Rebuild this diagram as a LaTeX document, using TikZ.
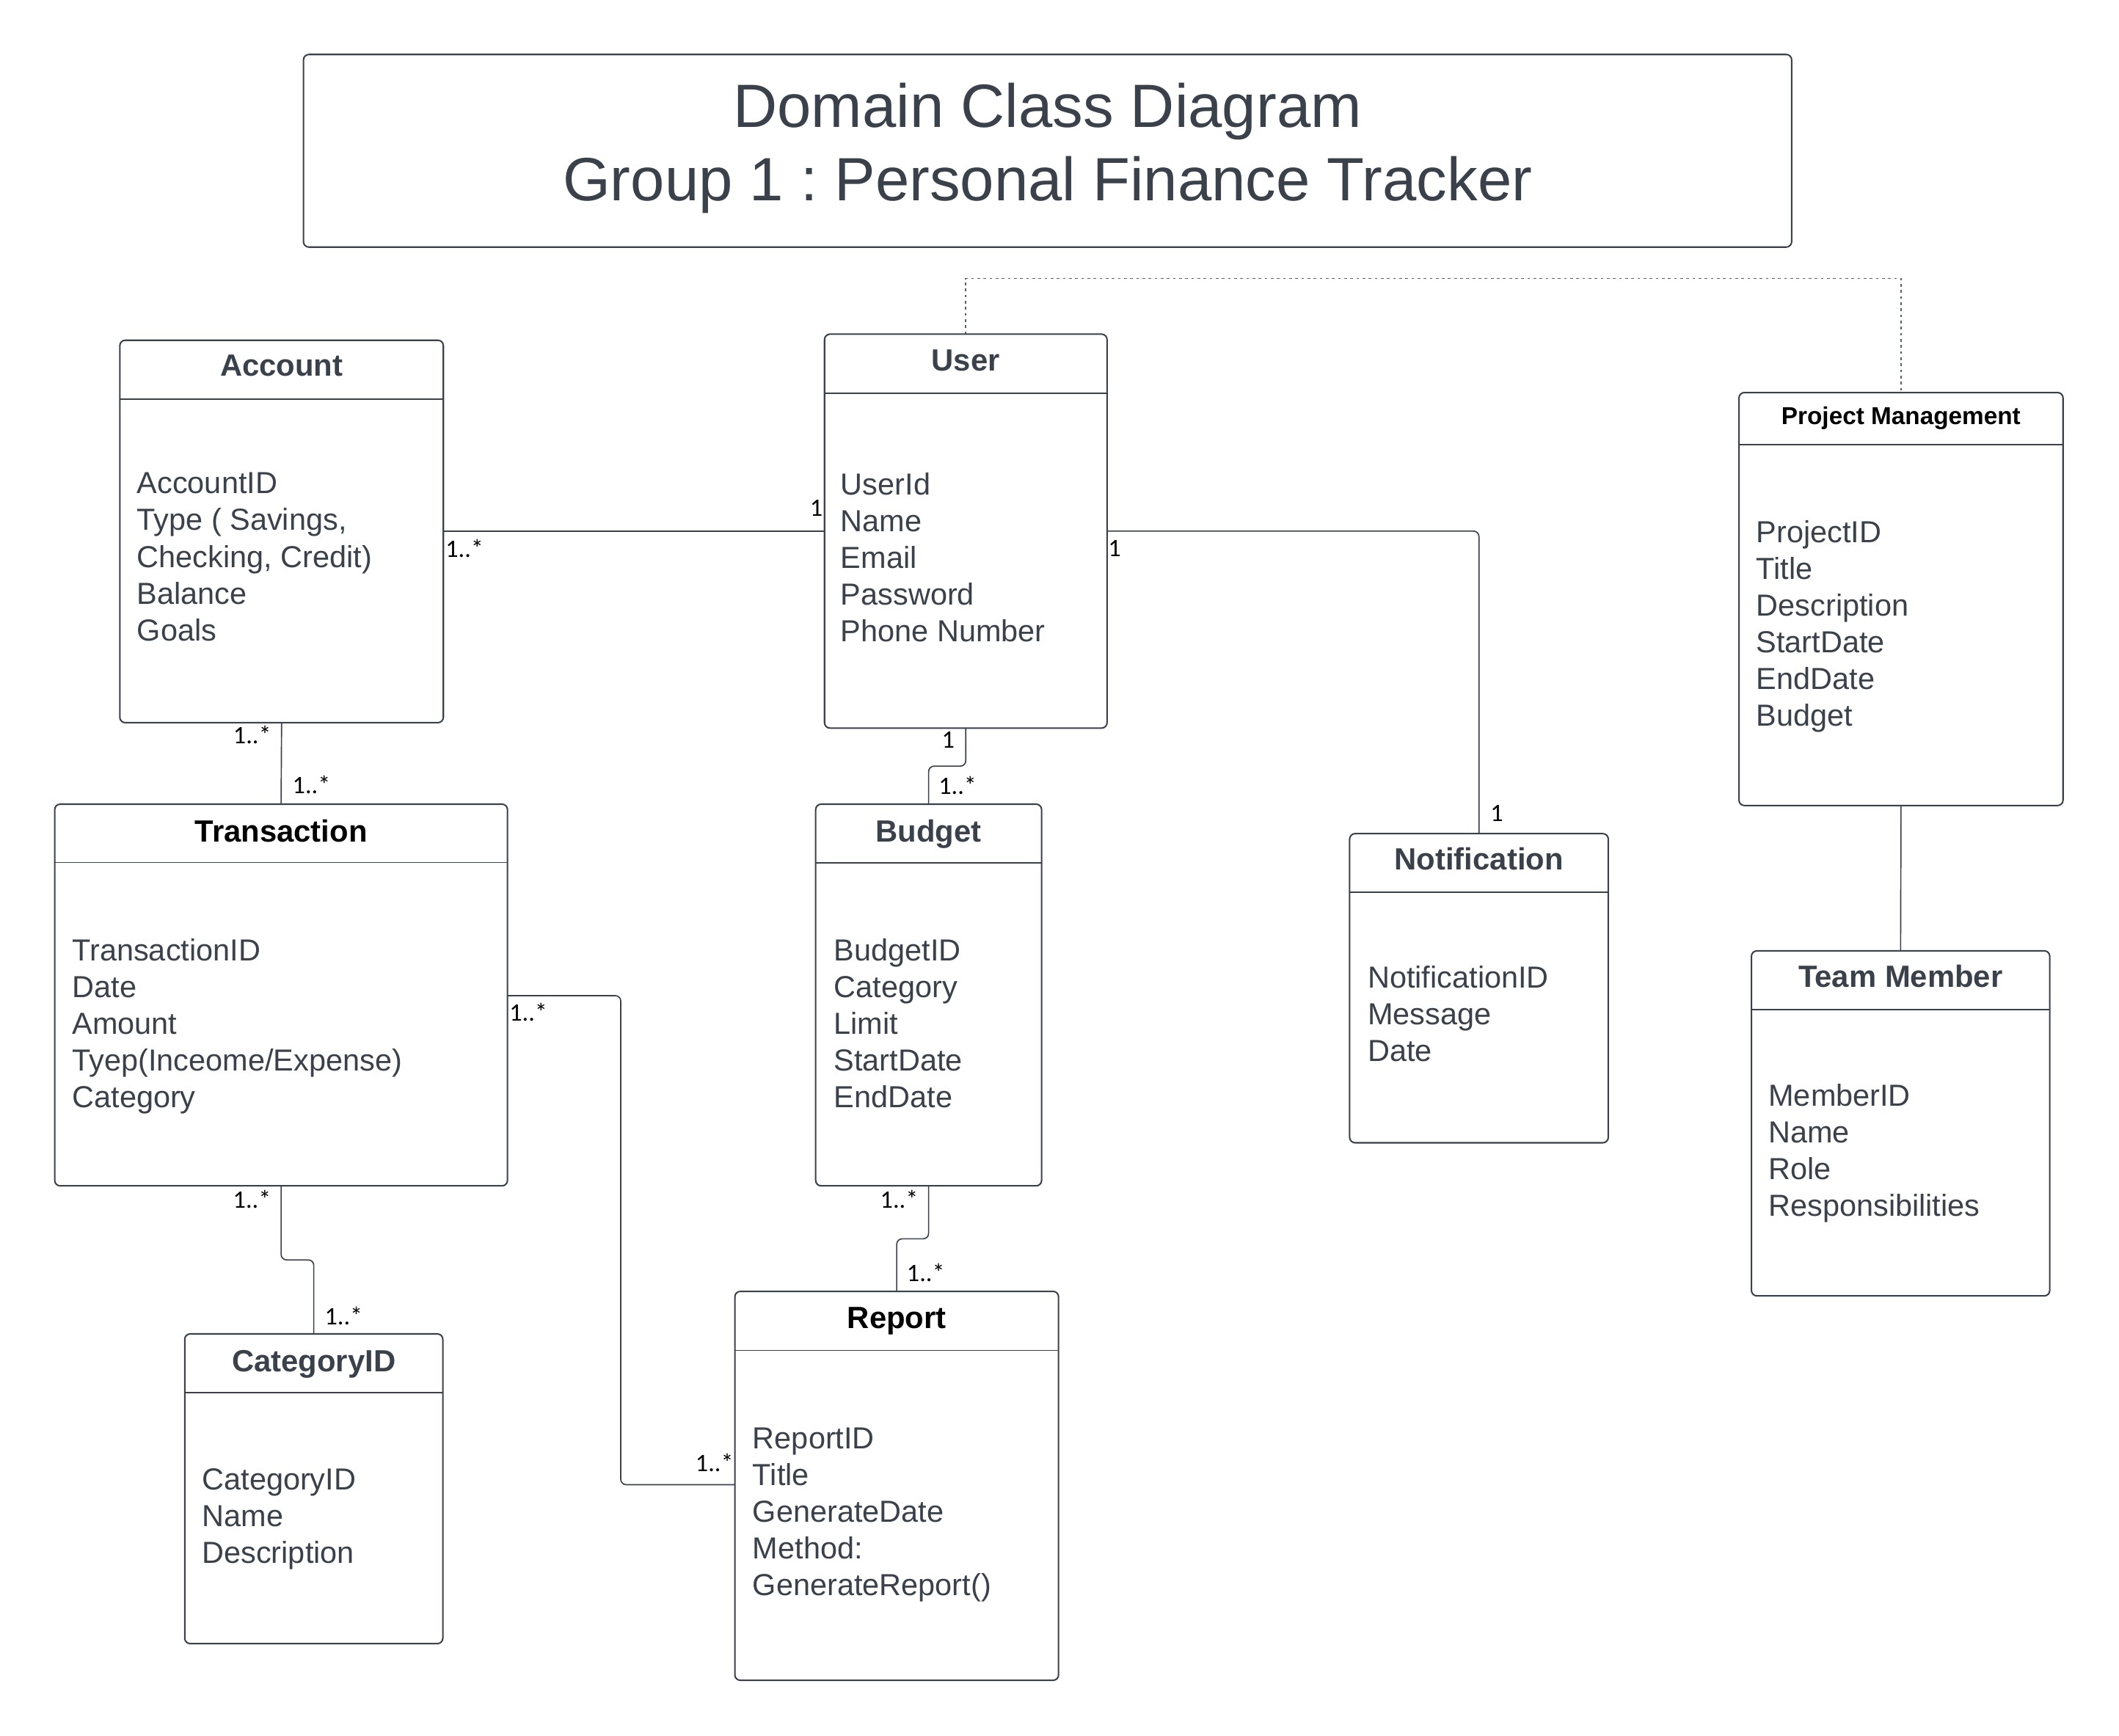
\documentclass[tikz,border=0pt]{standalone}
\usepackage{fontspec}
\setmainfont{Liberation Sans}
\newfontfamily\multfont{Carlito}
\definecolor{ink}{HTML}{3A414A}
\frenchspacing

\begin{document}
\begin{tikzpicture}[
		x=1pt, y=-1pt,
		every node/.style={inner sep=0pt, outer sep=0pt},
		classbox/.style={draw=ink, line width=1.1pt, rounded corners=4pt, anchor=north west},
		clsname/.style={anchor=base, text=ink, font={\fontsize{22.6}{26}\selectfont\bfseries}},
		clsnamedark/.style={clsname, text=black},
		attrs/.style={anchor=north west, align=left, text=ink, font={\fontsize{22.4}{27.1}\selectfont}},
		divider/.style={draw=ink, line width=1.1pt},
		thindivider/.style={draw=ink, line width=0.7pt},
		assoc/.style={draw=ink, line width=0.9pt, rounded corners=4pt},
		deplink/.style={draw=ink!85, line width=0.9pt, dash pattern=on 2pt off 2.5pt},
		mult/.style={font={\multfont\fontsize{18.5}{18.5}\selectfont}, text=black}
	]
	\useasboundingbox (0,0) rectangle (1560,1278);

	% title
	\node[classbox, minimum width=1095.6pt, minimum height=141.8pt] (ttlbox) at (223.4,40.1) {};
	\node[anchor=north, align=center, text=ink, font={\fontsize{45}{53.7}\selectfont}] (ttl) at (771.2,61.2)
		{Domain Class Diagram\\Group 1 : Personal Finance Tracker};

	% classes
	\node[classbox, minimum width=238.2pt, minimum height=281.5pt] (acc) at (88.2,250.5) {};
	\node[classbox, minimum width=208pt, minimum height=290pt] (usr) at (607,246) {};
	\node[classbox, minimum width=238.6pt, minimum height=304pt] (pm) at (1280.2,289) {};
	\node[classbox, minimum width=333.3pt, minimum height=281pt] (trans) at (40.3,592) {};
	\node[classbox, minimum width=166.3pt, minimum height=281pt] (bud) at (600.5,592) {};
	\node[classbox, minimum width=190.4pt, minimum height=227.6pt] (notif) at (993.6,613.7) {};
	\node[classbox, minimum width=219.6pt, minimum height=254pt] (team) at (1289.4,700) {};
	\node[classbox, minimum width=190pt, minimum height=228pt] (cat) at (136,982) {};
	\node[classbox, minimum width=238.3pt, minimum height=286.3pt] (rep) at (541,950.7) {};

	\node[clsname] (accT) at (207.3,277) {Account};
	\node[clsname] (usrT) at (711,273) {User};
	\node[clsnamedark, font={\fontsize{18}{20}\selectfont\bfseries}] (pmT) at (1399.5,312.7) {Project Management};
	\node[clsnamedark] (transT) at (207,620) {Transaction};
	\node[clsname] (budT) at (683.6,620) {Budget};
	\node[clsname] (notifT) at (1088.8,640.4) {Notification};
	\node[clsname] (teamT) at (1399.2,727) {Team Member};
	\node[clsname] (catT) at (231,1010) {CategoryID};
	\node[clsnamedark] (repT) at (660.2,977.7) {Report};

	\foreach \cls/\yy in {acc/293.8, usr/289.5, pm/327.4, bud/635, notif/657, team/743, cat/1025}
		\draw[divider] (\cls.west |- 0,\yy) -- (\cls.east |- 0,\yy);
	\foreach \cls/\yy in {trans/635, rep/994}
		\draw[thindivider] (\cls.west |- 0,\yy) -- (\cls.east |- 0,\yy);

	\node[attrs] (accA) at (100.9,348) {AccountID\\Type ( Savings,\\Checking, Credit)\\Balance\\Goals};
	\node[attrs] (usrA) at (619,348) {UserId\\Name\\Email\\Password\\Phone Number};
	\node[attrs] (pmA) at (1293,383) {ProjectID\\Title\\Description\\StartDate\\EndDate\\Budget};
	\node[attrs] (transA) at (53.2,691) {TransactionID\\Date\\Amount\\Tyep(Inceome/Expense)\\Category};
	\node[attrs] (budA) at (614,691) {BudgetID\\Category\\Limit\\StartDate\\EndDate};
	\node[attrs] (notifA) at (1007,711) {NotificationID\\Message\\Date};
	\node[attrs] (teamA) at (1302,798) {MemberID\\Name\\Role\\Responsibilities};
	\node[attrs] (catA) at (148.8,1081) {CategoryID\\Name\\Description};
	\node[attrs] (repA) at (554.2,1051) {ReportID\\Title\\GenerateDate\\Method:\\GenerateReport()};

	% associations
	\coordinate (trbend) at (457,1093);
	\draw[assoc] (acc.east |- 0,391) -- (usr.west |- 0,391);
	\draw[assoc] (usr.east |- 0,391) -| (notif.north);
	\draw[assoc] (usr.south) -- (usr.south |- 0,564) -| (bud.north);
	\draw[assoc] (acc.south) -- (trans.north);
	\draw[assoc] (trans.east |- 0,733) -| (trbend) -- (rep.west |- trbend);
	\draw[assoc] (trans.south) -- (trans.south |- 0,927.5) -| (cat.north);
	\draw[assoc] (bud.south) -- (bud.south |- 0,912) -| (rep.north);
	\draw[assoc] (pm.south) -- (team.north);
	\draw[deplink] (usr.north) -- (usr.north |- 0,205) -| (pm.north);

	% multiplicities
	\node[mult] (lAccUa) at (342,404) {1..*};
	\node[mult] (lAccUb) at (601,374) {1};
	\node[mult] (lUsrNa) at (820.5,403.5) {1};
	\node[mult] (lUsrNb) at (1102,599) {1};
	\node[mult] (lUsrBa) at (698,545) {1};
	\node[mult] (lUsrBb) at (705,578) {1..*};
	\node[mult] (lAccTa) at (185.7,541) {1..*};
	\node[mult] (lAccTb) at (229.3,577.6) {1..*};
	\node[mult] (lTrRa) at (389,745) {1..*};
	\node[mult] (lTrRb) at (526,1077) {1..*};
	\node[mult] (lTrCa) at (185.6,883) {1..*};
	\node[mult] (lTrCb) at (253,968.5) {1..*};
	\node[mult] (lBuRa) at (662,883) {1..*};
	\node[mult] (lBuRb) at (681.6,937) {1..*};

\end{tikzpicture}
\end{document}
